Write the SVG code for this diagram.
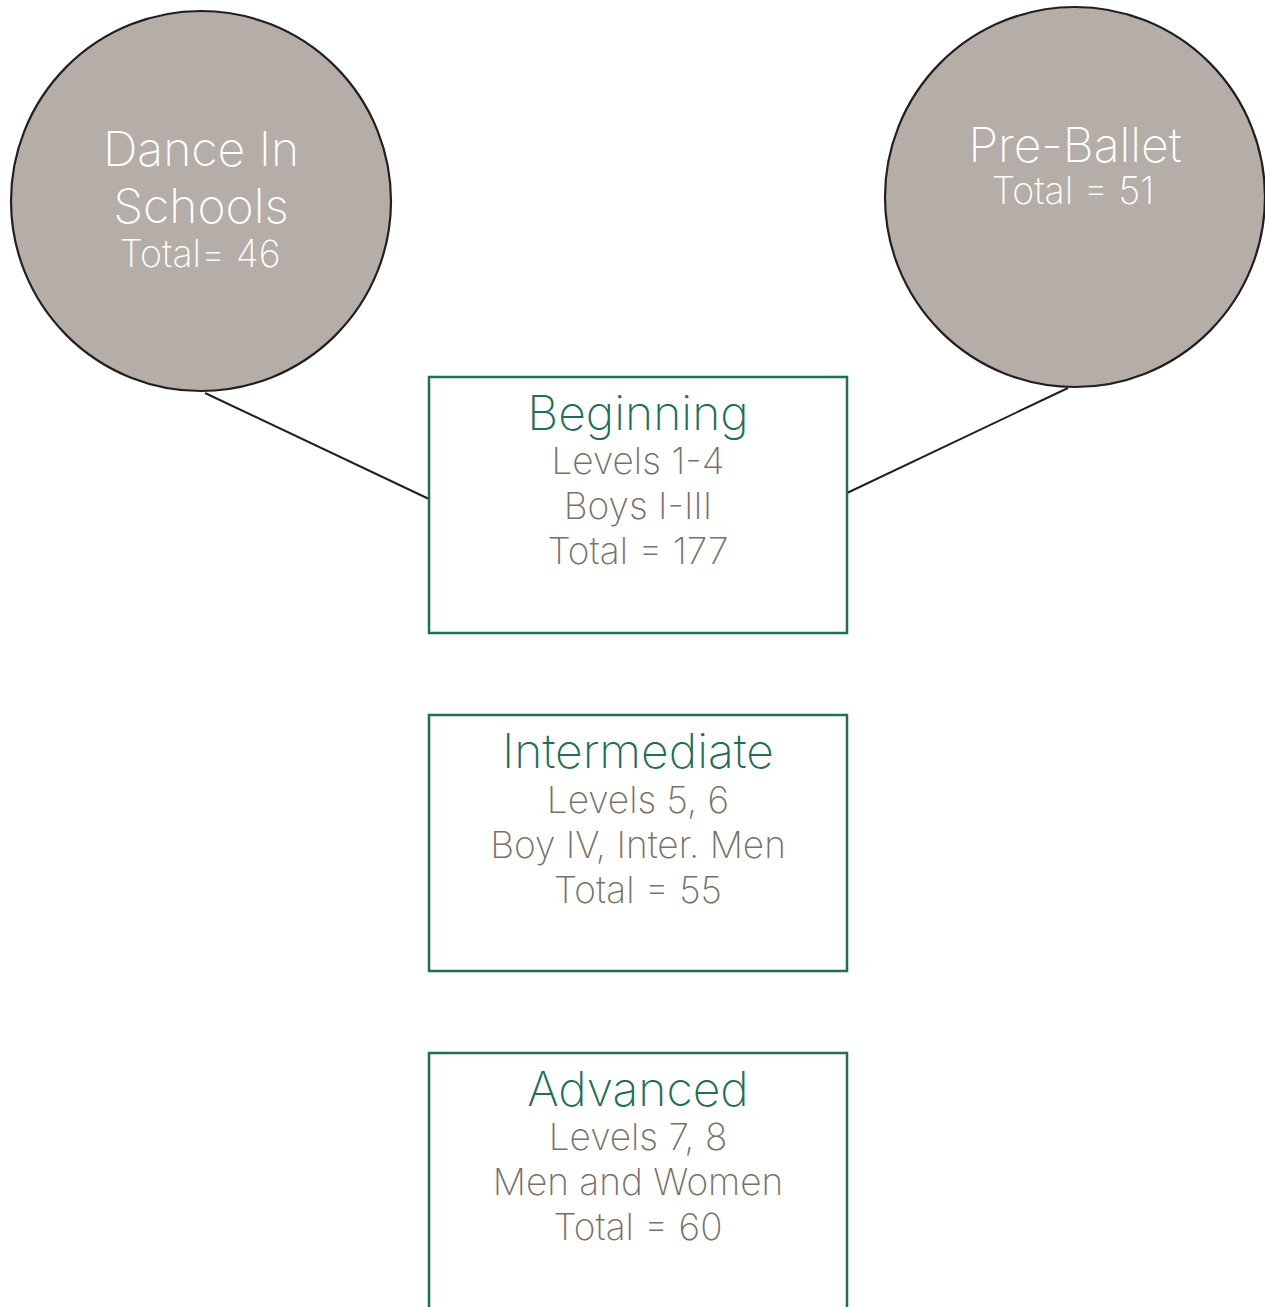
<svg xmlns="http://www.w3.org/2000/svg" width="1265" height="1307" viewBox="0 0 1265 1307">
<style>
.circ{fill:#b5ada7;stroke:#231f20;stroke-width:2.2}
.box{fill:#ffffff;stroke:#1f6e55;stroke-width:2.5}
.conn{stroke:#231f20;stroke-width:2;fill:none}
text{font-family:Inter,"Liberation Sans",sans-serif;font-weight:200;text-anchor:middle}
.w{fill:#ffffff}
.g{fill:#1f6e55;font-size:48px}
.b{fill:#7a6f66;font-size:37px}
.cl{font-size:48px}
.cs{font-size:37.5px}
</style>
<rect width="1265" height="1307" fill="#ffffff"/>
<g id="connectors">
<line class="conn" x1="205" y1="393" x2="429" y2="499"/>
<line class="conn" x1="1068" y1="388" x2="847" y2="493"/>
</g>
<g id="dance-in-schools">
<circle class="circ" cx="201" cy="201" r="190"/>
<text class="w cl" x="201" y="166">Dance In</text>
<text class="w cl" x="201" y="223">Schools</text>
<text class="w cs" x="200" y="267">Total= 46</text>
</g>
<g id="pre-ballet">
<circle class="circ" cx="1075" cy="197" r="190"/>
<text class="w cl" x="1075" y="162">Pre-Ballet</text>
<text class="w cs" x="1073" y="204">Total = 51</text>
</g>
<g id="beginning">
<rect class="box" x="429" y="377" width="418" height="256"/>
<text class="g" x="638" y="430">Beginning</text>
<text class="b" x="638" y="474">Levels 1-4</text>
<text class="b" x="638" y="519">Boys I-III</text>
<text class="b" x="638" y="564">Total = 177</text>
</g>
<g id="intermediate">
<rect class="box" x="429" y="715" width="418" height="256"/>
<text class="g" x="638" y="768">Intermediate</text>
<text class="b" x="638" y="813">Levels 5, 6</text>
<text class="b" x="638" y="858">Boy IV, Inter. Men</text>
<text class="b" x="638" y="903">Total = 55</text>
</g>
<g id="advanced">
<rect class="box" x="429" y="1053" width="418" height="270"/>
<text class="g" x="638" y="1106">Advanced</text>
<text class="b" x="638" y="1150">Levels 7, 8</text>
<text class="b" x="638" y="1195">Men and Women</text>
<text class="b" x="638" y="1240">Total = 60</text>
</g>
</svg>
